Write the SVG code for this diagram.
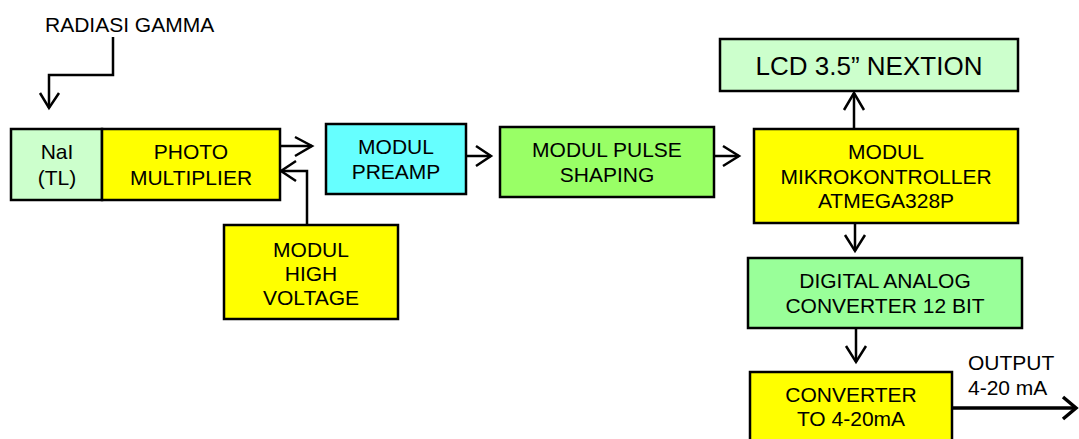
<svg xmlns="http://www.w3.org/2000/svg" width="1079" height="439" viewBox="0 0 1079 439">
<style>
.box{stroke:#000;stroke-width:2.5}
.t{font-family:"Liberation Sans",Arial,sans-serif;font-size:21px;fill:#000;text-anchor:middle}
.tl{font-family:"Liberation Sans",Arial,sans-serif;font-size:21px;fill:#000}
.c{fill:none;stroke:#000;stroke-width:2.5}
</style>
<rect width="1079" height="439" fill="#fff"/>
<text class="tl" x="45" y="32">RADIASI GAMMA</text>
<g id="nai"><rect class="box" x="11" y="129" width="91" height="71" fill="#CCFFCC"/><text class="t" x="57" y="159">NaI</text><text class="t" x="57" y="185">(TL)</text></g>
<g id="pmt"><rect class="box" x="102" y="129" width="178" height="71" fill="#FFFF00"/><text class="t" x="191" y="159">PHOTO</text><text class="t" x="191" y="185">MULTIPLIER</text></g>
<g id="hv"><rect class="box" x="224" y="225" width="174" height="94" fill="#FFFF00"/><text class="t" x="311" y="257">MODUL</text><text class="t" x="311" y="281">HIGH</text><text class="t" x="311" y="305">VOLTAGE</text></g>
<g id="preamp"><rect class="box" x="326" y="124" width="140" height="70" fill="#66FFFF"/><text class="t" x="396" y="154">MODUL</text><text class="t" x="396" y="179">PREAMP</text></g>
<g id="pulse"><rect class="box" x="500" y="127" width="214" height="70" fill="#99FF66"/><text class="t" x="607" y="157">MODUL PULSE</text><text class="t" x="607" y="182">SHAPING</text></g>
<g id="lcd"><rect class="box" x="720" y="39" width="298" height="52" fill="#CCFFCC"/><text class="t" x="869" y="75" style="font-size:26px">LCD 3.5” NEXTION</text></g>
<g id="mcu"><rect class="box" x="754" y="129" width="264" height="94" fill="#FFFF00"/><text class="t" x="886" y="159">MODUL</text><text class="t" x="886" y="184">MIKROKONTROLLER</text><text class="t" x="886" y="208">ATMEGA328P</text></g>
<g id="dac"><rect class="box" x="748" y="258" width="274" height="70" fill="#99FF99"/><text class="t" x="885" y="288">DIGITAL ANALOG</text><text class="t" x="885" y="313">CONVERTER 12 BIT</text></g>
<g id="conv"><rect class="box" x="750" y="372" width="202" height="80" fill="#FFFF00"/><text class="t" x="851" y="402">CONVERTER</text><text class="t" x="851" y="426">TO 4-20mA</text></g>
<text class="tl" x="968" y="370">OUTPUT</text>
<text class="tl" x="968" y="395">4-20 mA</text>
<g id="connectors">
<polyline class="c" points="113,37 113,75 49,75 49,108"/><polyline class="c" points="40,93 49,108 59,93"/>
<line class="c" x1="280" y1="146" x2="312" y2="146"/><polyline class="c" points="295,137 312,146 295,156"/>
<polyline class="c" points="307,225 307,171 281,171"/><polyline class="c" points="296,161 281,171 296,181"/>
<line class="c" x1="466" y1="156" x2="491" y2="156"/><polyline class="c" points="476,146 491,156 476,166"/>
<line class="c" x1="714" y1="156" x2="739" y2="156"/><polyline class="c" points="723,146 739,156 723,166"/>
<line class="c" x1="854" y1="129" x2="854" y2="93"/><polyline class="c" points="844,110 854,93 864,110"/>
<line class="c" x1="855" y1="223" x2="855" y2="251"/><polyline class="c" points="845,235 855,251 865,235"/>
<line class="c" x1="856" y1="328" x2="856" y2="362"/><polyline class="c" points="846,346 856,362 866,346"/>
<line x1="952" y1="408" x2="1076" y2="408" stroke="#000" stroke-width="3.5"/><polyline points="1063,397 1076,408 1063,419" fill="none" stroke="#000" stroke-width="3.5"/>
</g>
</svg>
